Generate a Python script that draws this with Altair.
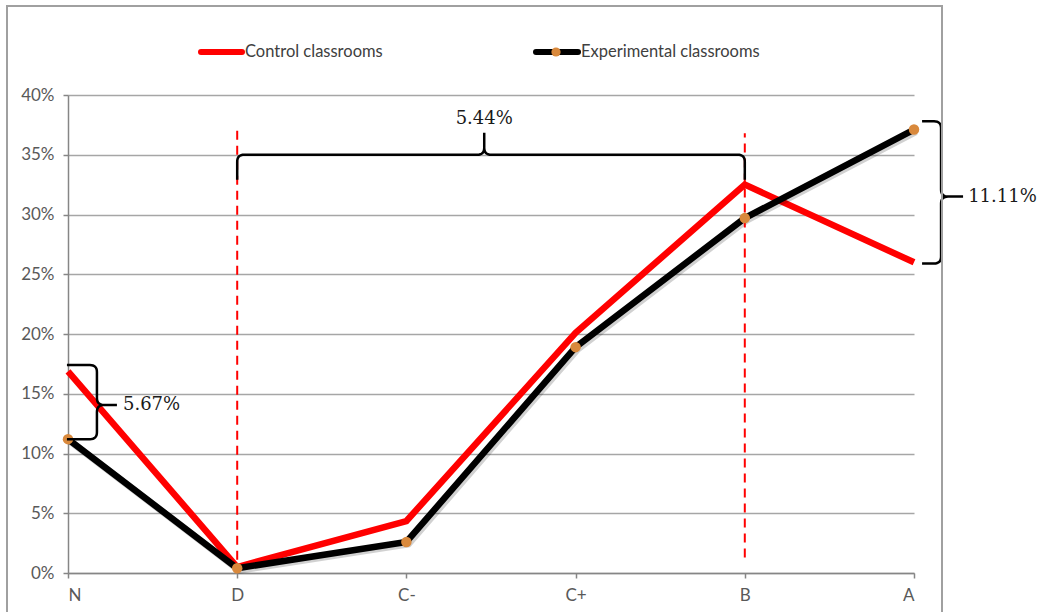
import altair as alt
import pandas as pd

# Grade bands and the share of students in each, per classroom type (percent)
grades = ["N", "D", "C-", "C+", "B", "A"]
control = [16.87, 0.5, 4.35, 20.1, 32.5, 26.0]
experimental = [11.2, 0.4, 2.6, 18.9, 29.7, 37.11]
series_names = ["Control classrooms", "Experimental classrooms"]
y_ticks = [0, 5, 10, 15, 20, 25, 30, 35, 40]
gap_labels = ["5.67%", "5.44%", "11.11%"]

# Plot geometry
W, H = 846, 478
X_MAX, Y_MAX = len(grades) - 1, 40
PX_X = W / X_MAX
PX_Y = H / Y_MAX

RED = "#FF0000"
BLACK = "#000000"
ORANGE = "#D9893C"
GRID = "#A6A6A6"
TEXT = "#404040"

idx = list(range(len(grades)))
long = pd.DataFrame({
    "idx": idx * 2,
    "value": control + experimental,
    "series": [series_names[0]] * len(grades) + [series_names[1]] * len(grades),
})
ctrl_df = long[long.series == series_names[0]]
exp_df = long[long.series == series_names[1]]

x_scale = alt.Scale(domain=[0, X_MAX], nice=False, zero=False)
y_scale = alt.Scale(domain=[0, Y_MAX], nice=False)

label_expr = "[" + ",".join("'" + g + "'" for g in grades) + "][datum.value]"

x_axis = alt.Axis(values=idx, labelExpr=label_expr, title=None, grid=False,
                  domainColor="#868686", domainWidth=1.5, tickColor="#868686",
                  tickWidth=1.5, tickSize=5, labelPadding=9)
y_axis = alt.Axis(values=y_ticks, labelExpr="datum.value + '%'", title=None,
                  grid=True, gridColor=GRID, gridWidth=1.5,
                  domainColor="#868686", domainWidth=1.5, tickColor="#868686",
                  tickWidth=1.5, tickSize=5, labelPadding=9)


def xq(field):
    return alt.X(field, type="quantitative", scale=x_scale, axis=x_axis)


def yq(field):
    return alt.Y(field, type="quantitative", scale=y_scale, axis=y_axis)


# ---- curly braces, built from quadratic curve segments in pixel space ----
def to_px(x, y):
    return x * PX_X, (Y_MAX - y) * PX_Y


def to_data(px, py):
    return px / PX_X, Y_MAX - py / PX_Y


def quad(p0, c, p1, n=8):
    pts = []
    for i in range(1, n + 1):
        t = i / n
        a = (1 - t) ** 2
        b = 2 * (1 - t) * t
        d = t ** 2
        pts.append((a * p0[0] + b * c[0] + d * p1[0], a * p0[1] + b * c[1] + d * p1[1]))
    return pts


def vbrace(x, y_top, y_bot, y_tip, hook, tip, r=7):
    xv, yt = to_px(x, y_top)
    _, yb = to_px(x, y_bot)
    _, ym = to_px(x, y_tip)
    pts = [(xv - hook, yt), (xv - r, yt)]
    pts += quad((xv - r, yt), (xv, yt), (xv, yt + r))
    pts.append((xv, ym - r))
    pts += quad((xv, ym - r), (xv, ym), (xv + r, ym))
    pts += [(xv + tip, ym), (xv + r, ym)]
    pts += quad((xv + r, ym), (xv, ym), (xv, ym + r))
    pts.append((xv, yb - r))
    pts += quad((xv, yb - r), (xv, yb), (xv - r, yb))
    pts.append((xv - hook, yb))
    return [to_data(px, py) for px, py in pts]


def hbrace(x_left, x_right, x_tip, y, hook, tip, r=7):
    xl, yh = to_px(x_left, y)
    xr, _ = to_px(x_right, y)
    xm, _ = to_px(x_tip, y)
    pts = [(xl, yh + hook), (xl, yh + r)]
    pts += quad((xl, yh + r), (xl, yh), (xl + r, yh))
    pts.append((xm - r, yh))
    pts += quad((xm - r, yh), (xm, yh), (xm, yh - r))
    pts += [(xm, yh - tip), (xm, yh - r)]
    pts += quad((xm, yh - r), (xm, yh), (xm + r, yh))
    pts.append((xr - r, yh))
    pts += quad((xr - r, yh), (xr, yh), (xr, yh + r))
    pts.append((xr, yh + hook))
    return [to_data(px, py) for px, py in pts]


braces = [
    vbrace(0.171, 17.4, 11.2, 14.06, hook=30, tip=20),
    hbrace(1.0, 4.0, 2.46, 35.0, hook=25, tip=22),
    vbrace(5.16, 37.8, 25.9, 31.5, hook=19, tip=22),
]
brace_rows = []
for b, pts in enumerate(braces):
    for k, (bx, by) in enumerate(pts):
        brace_rows.append({"brace": b, "order": k, "bx": bx, "by": by})
brace_df = pd.DataFrame(brace_rows)

gap_df = pd.DataFrame({
    "gx": [0.325, 2.46, 5.32],
    "gy": [14.06, 38.0, 31.5],
    "label": gap_labels,
    "anchor": ["left", "center", "left"],
})

guide_df = pd.DataFrame({"gx": [1, 4], "lo": [1.1, 1.3], "hi": [37.2, 36.8]})
one = pd.DataFrame({"k": [0]})

# ---- layers ----
ctrl_line = alt.Chart(ctrl_df).mark_line(color=RED, strokeWidth=6.5).encode(
    x=xq("idx"), y=yq("value"), order="idx:Q")

exp_shadow = alt.Chart(exp_df).mark_line(
    color="#000000", strokeWidth=7, opacity=0.18).encode(
    x=xq("idx"), y=yq("value"), order="idx:Q",
    xOffset=alt.value(2), yOffset=alt.value(2))

exp_line = alt.Chart(exp_df).mark_line(color=BLACK, strokeWidth=6.5).encode(
    x=xq("idx"), y=yq("value"), order="idx:Q")

guides = alt.Chart(guide_df).mark_rule(color=RED, strokeWidth=2, strokeDash=[9, 6]).encode(
    x=xq("gx"), y=yq("lo"), y2="hi:Q")

exp_points = alt.Chart(exp_df).mark_circle(color=ORANGE, size=110, opacity=1).encode(
    x=xq("idx"), y=yq("value"))

brace_lines = alt.Chart(brace_df).mark_line(color=BLACK, strokeWidth=2.5, clip=False).encode(
    x=xq("bx"), y=yq("by"), detail="brace:N", order="order:Q")

gap_text = []
for i in range(len(gap_df)):
    sub = gap_df.iloc[[i]]
    gap_text.append(
        alt.Chart(sub).mark_text(
            font="DejaVu Serif", fontSize=18, color="#1a1a1a",
            align=str(sub["anchor"].iloc[0]), baseline="middle").encode(
            x=xq("gx"), y=yq("gy"), text="label:N"))

# ---- outer border and legend, placed in pixels around the plot ----
frame = alt.Chart(one).mark_rect(fillOpacity=0, stroke="#A0A0A0", strokeWidth=2).encode(
    x=alt.value(-61), x2=alt.value(874), y=alt.value(-89), y2=alt.value(540))

leg_y = -43
leg_ctrl_line = alt.Chart(one).mark_rule(color=RED, strokeWidth=6, strokeCap="round").encode(
    x=alt.value(133), x2=alt.value(174), y=alt.value(leg_y))
leg_exp_line = alt.Chart(one).mark_rule(color=BLACK, strokeWidth=6, strokeCap="round").encode(
    x=alt.value(468), x2=alt.value(510), y=alt.value(leg_y))
leg_exp_dot = alt.Chart(one).mark_circle(color=ORANGE, size=85, opacity=1).encode(
    x=alt.value(488), y=alt.value(leg_y))
leg_ctrl_text = alt.Chart(one).mark_text(
    align="left", baseline="middle", font="Lato", fontSize=16.5, color=TEXT).encode(
    x=alt.value(177), y=alt.value(leg_y), text=alt.value(series_names[0]))
leg_exp_text = alt.Chart(one).mark_text(
    align="left", baseline="middle", font="Lato", fontSize=16.5, color=TEXT).encode(
    x=alt.value(513), y=alt.value(leg_y), text=alt.value(series_names[1]))

chart = alt.layer(
    ctrl_line, exp_shadow, exp_line, guides, exp_points, brace_lines, *gap_text,
    frame, leg_ctrl_line, leg_exp_line, leg_exp_dot, leg_ctrl_text, leg_exp_text,
).properties(
    width=W, height=H,
    autosize=alt.AutoSizeParams(type="none"),
    padding={"left": 68, "top": 95, "right": 125, "bottom": 39},
    background="white",
).configure_view(stroke=None).configure_axis(
    labelFont="Lato", labelFontSize=17, labelColor="#595959"
)

chart.save("out.html", embed_options={"renderer": "svg", "actions": False})
